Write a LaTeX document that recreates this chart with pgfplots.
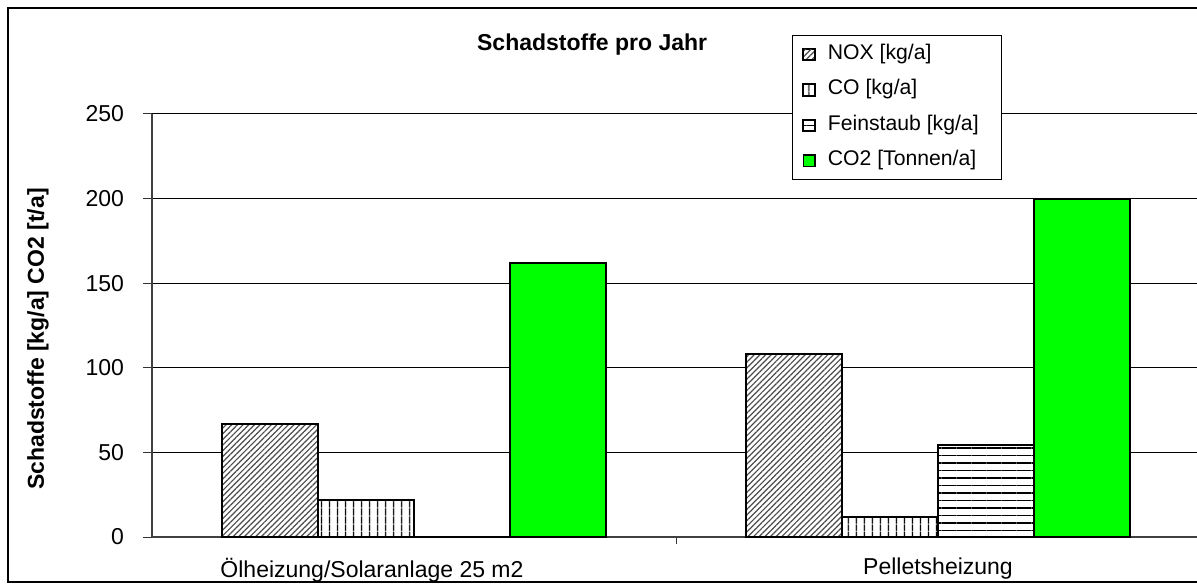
\documentclass[border=0pt]{standalone}
\usepackage{pgfplots}
\pgfplotsset{compat=1.18}
\usepackage{fontspec}
\setmainfont{Liberation Sans}
\usetikzlibrary{patterns.meta}
\newcommand{\rf}{\fontsize{11.5}{13.5}\selectfont}
\newcommand{\lf}{\fontsize{10.6}{12.5}\selectfont}
\newcommand{\bfn}{\bfseries\fontsize{11.5}{13.5}\selectfont}
\begin{document}
\begin{tikzpicture}
\useasboundingbox (0,0) rectangle (598.5pt,291.5pt);
\clip (0,0) rectangle (598.5pt,291.5pt);
\draw[line width=0.8pt, black] (4pt,0.5pt) rectangle (620pt,287.5pt);
\begin{axis}[
  at={(76pt,23pt)}, anchor=south west,
  scale only axis, width=524pt, height=211.5pt,
  xmin=-0.5, xmax=1.5, ymin=0, ymax=250,
  ybar=0pt, bar width=48pt,
  axis x line*=bottom, axis y line*=left,
  x axis line style={draw=black!75, line width=1pt},
  y axis line style={draw=black!75, line width=0.6pt},
  ytick={0,50,100,150,200,250},
  ymajorgrids, grid style={black, line width=0.5pt},
  tick align=outside, major tick length=4.5pt, minor tick length=3.5pt,
  xtick={0,1},
  xticklabels={\hspace*{-42pt}Ölheizung/Solaranlage 25 m2, Pelletsheizung},
  minor xtick={0.5},
  major x tick style={draw=none},
  minor x tick style={draw=black!80, line width=0.5pt},
  ytick style={draw=black!80, line width=0.5pt},
  /pgf/number format/assume math mode=true,
  ticklabel style={font=\rf},
  xticklabel style={yshift=-2.5pt},
  yticklabel style={xshift=-6pt},
  title={Schadstoffe pro Jahr},
  title style={font=\bfn, at={(axis description cs:0.42,1.151)}, anchor=base, yshift=-6pt},
  ylabel={Schadstoffe [kg/a] CO2 [t/a]},
  ylabel style={font=\bfn, at={(axis description cs:-0.1088,0.468)}, anchor=center},
  legend style={at={(axis description cs:0.6107,1.1868)}, anchor=north west,
    draw=black, line width=0.6pt, fill=white, font=\lf,
    inner xsep=5pt, inner ysep=4.4pt, row sep=7.75pt, column sep=6pt,
    nodes={inner sep=0pt, text height=7.5pt, text depth=2.5pt}},
  legend cell align=left,
  mylegend/.style={legend image code/.code={\draw[##1, line width=0.8pt] (0pt,-2.9pt) rectangle (5.8pt,2.9pt);}},
]
\addplot[mylegend, draw=black, line width=1pt, preaction={fill=white},
  pattern={Lines[angle=45,distance=2pt,line width=0.6pt]}, pattern color=black!70]
  coordinates {(0,67) (1,108)};
\addlegendentry{\makebox[82pt][l]{NOX [kg/a]}}
\addplot[mylegend, draw=black, line width=1pt, preaction={fill=white},
  pattern={Lines[angle=90,distance=4pt,line width=0.7pt]}, pattern color=black]
  coordinates {(0,22) (1,12)};
\addlegendentry{CO [kg/a]}
\addplot[mylegend, draw=black, line width=1pt, preaction={fill=white},
  pattern={Lines[angle=0,distance=3.75pt,line width=0.7pt]}, pattern color=black]
  coordinates {(0,0) (1,54.5)};
\addlegendentry{Feinstaub [kg/a]}
\addplot[mylegend, draw=black, line width=1pt, fill=green]
  coordinates {(0,162) (1,200)};
\addlegendentry{CO2 [Tonnen/a]}
\end{axis}
\end{tikzpicture}
\end{document}
